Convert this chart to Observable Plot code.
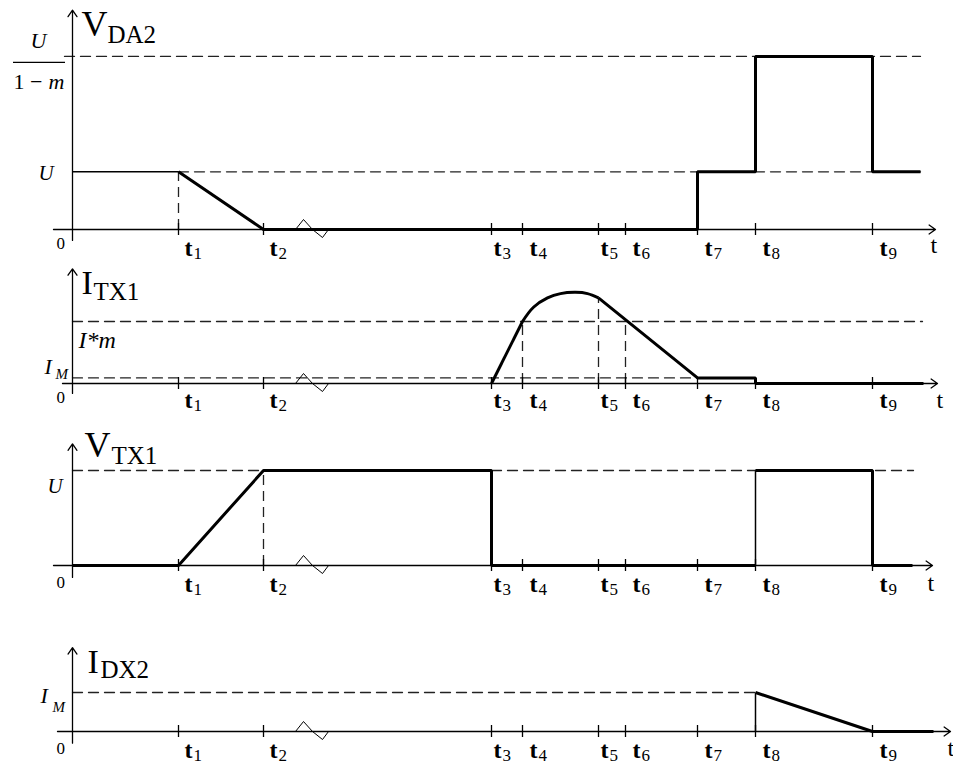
<!DOCTYPE html>
<html><head><meta charset="utf-8">
<script src="https://cdn.jsdelivr.net/npm/d3@7"></script>
<script src="https://cdn.jsdelivr.net/npm/@observablehq/plot@0.6"></script>
<style>
body{margin:0;background:#fff;}
#chart{width:953px;height:765px;overflow:hidden;}
#chart svg{display:block;}
</style></head><body><div id="chart"></div>
<script>
// ---------- data ----------
const tickTimes  = [10.6, 19.1, 41.9, 45.0, 52.6, 55.3, 62.5, 68.3, 80.0];
const tickNames  = ["1","2","3","4","5","6","7","8","9"];
const breakTime  = 24.0;

// Panel 1: V_DA2  (U = 1, U/(1-m) = 3)
const vda2Thin   = [[0,1],[10.6,1]];
const vda2Thick  = [[10.6,1],[19.1,0],[62.5,0],[62.5,1],[68.3,1],[68.3,3],[80,3],[80,1],[84.8,1]];
const vda2DashH  = [[[-0.8,3],[84.8,3]], [[10.6,1],[84.8,1]]];
const vda2DashV  = [[10.6,1]];

// Panel 2: I_TX1  (I*m = 1, I_M = 0.09)
const itx1Rise   = [[41.9,0],[45.0,1]];
const itx1Arc    = [[45.0,1],[46.1,1.23],[47.5,1.38],[48.8,1.45],[50.3,1.47],[51.5,1.45],[52.6,1.38]];
const itx1Fall   = [[52.6,1.38],[62.5,0.09],[68.3,0.09],[68.3,0],[85.1,0]];
const itx1DashH  = [[[0,1],[85.0,1]], [[0,0.09],[62.5,0.09]]];
const itx1DashV  = [[45.0,1],[52.6,1.38],[55.3,1]];

// Panel 3: V_TX1  (U = 1)
const vtx1ThickA = [[0,0],[10.6,0],[19.1,1],[41.9,1],[41.9,0],[68.3,0]];
const vtx1ThinB  = [[68.3,0],[68.3,1]];
const vtx1ThickC = [[68.3,1],[80,1],[80,0],[84.0,0]];
const vtx1DashH  = [[[0,1],[19.1,1]], [[41.9,1],[84.1,1]]];
const vtx1DashV  = [[19.1,1]];

// Panel 4: I_DX2  (I_M = 1)
const idx2Thin   = [[68.3,0],[68.3,1]];
const idx2Thick  = [[68.3,1],[80,0],[86.1,0]];
const idx2DashH  = [[[0,1],[68.3,1]]];

// ---------- style / layout ----------
const SERIF = "Liberation Serif, Times New Roman, serif";
const INK = "#000";
const labelNudge = [6, 6, 2, 7, 2, 7, 7, 7, 7];

const zigzag = {
  draw(ctx) {
    ctx.moveTo(-17, 0); ctx.lineTo(-9, -10); ctx.lineTo(0, 0);
    ctx.lineTo(10, 8); ctx.lineTo(16, 0);
  }
};

const ticks = tickTimes.map((t, i) => ({t, name: tickNames[i], nudge: labelNudge[i]}));

function T(x, y, text, o) {
  return Plot.text([{x, y}], {x: "x", y: "y", text: () => text, fontFamily: SERIF, fill: INK, textAnchor: "start", lineAnchor: "bottom", ...o});
}

function ticksText(dy) {
  const out = [];
  for (const d of ticks) {
    out.push(T(d.t, 0, "t", {dx: d.nudge, dy, fontWeight: "bold", fontSize: 24}));
    out.push(T(d.t, 0, d.name, {dx: d.nudge + 9, dy: dy + 3, fontSize: 17}));
  }
  return out;
}

function buildPanel(cfg) {
  const P = (d) => ({x: d[0], y: d[1]});
  const marks = [];
  for (const seg of cfg.dashH) marks.push(Plot.line(seg.map(P), {x: "x", y: "y", stroke: "#222", strokeWidth: 1.3, strokeDasharray: "10,6"}));
  marks.push(Plot.ruleX(cfg.dashV.map(P), {x: "x", y1: 0, y2: "y", stroke: "#222", strokeWidth: 1.3, strokeDasharray: "10,6"}));
  marks.push(Plot.arrow([0], {x1: cfg.axisX[0], x2: cfg.axisX[1], y1: 0, y2: 0, stroke: INK, strokeWidth: 1.3, headLength: 9, headAngle: 70}));
  marks.push(Plot.arrow([0], {x1: 0, x2: 0, y1: cfg.axisY[0], y2: cfg.axisY[1], stroke: INK, strokeWidth: 1.3, headLength: 9, headAngle: 70}));
  marks.push(Plot.ruleX(ticks, {x: "t", y1: 0, y2: 0, insetTop: -6, insetBottom: -6, stroke: INK, strokeWidth: 1.3}));
  marks.push(Plot.dot([{t: breakTime}], {x: "t", y: 0, symbol: zigzag, stroke: INK, strokeWidth: 1, fill: "none"}));
  for (const s of cfg.thick) marks.push(Plot.line(s.data.map(P), {x: "x", y: "y", stroke: INK, strokeWidth: 3, curve: s.curve || "linear", strokeLinejoin: "miter", strokeLinecap: "butt"}));
  for (const s of cfg.thin) marks.push(Plot.line(s.map(P), {x: "x", y: "y", stroke: INK, strokeWidth: 1.5, strokeLinecap: "butt"}));
  marks.push(...ticksText(cfg.tickDy), ...cfg.extra);
  return Plot.plot({
    width: 953, height: cfg.height,
    marginTop: 0, marginBottom: 0, marginLeft: 0, marginRight: 0,
    x: {domain: [0, 86.5], range: [72, 937], axis: null},
    y: {domain: [0, 1], range: cfg.yRange, axis: null},
    style: {background: "#fff", fontFamily: SERIF},
    marks
  });
}

const chart = document.getElementById("chart");

// Panel 1
chart.append(buildPanel({
  height: 262, yRange: [229, 171.3], tickDy: 26,
  axisX: [-1.9, 86.3], axisY: [-0.19, 3.8],
  dashH: vda2DashH, dashV: vda2DashV,
  thick: [{data: vda2Thick}], thin: [vda2Thin],
  extra: [
    T(0, 3.8, "V", {dx: 9, dy: 26, fontSize: 36}),
    T(0, 3.8, "DA2", {dx: 35, dy: 33, fontSize: 25}),
    T(86.3, 0, "t", {dx: -5, dy: 23, fontSize: 24}),
    T(0, 0, "0", {dx: -16, dy: 19, fontSize: 17}),
    T(0, 1, "U", {dx: -34, dy: 8, fontSize: 21, fontStyle: "italic"}),
    T(0, 3, "U", {dx: -42, dy: -8, fontSize: 22, fontStyle: "italic"}),
    T(0, 3, "1 −", {dx: -59, dy: 33, fontSize: 22}),
    T(0, 3, "m", {dx: -24, dy: 33, fontSize: 22, fontStyle: "italic"}),
    Plot.ruleY([3], {x1: 0, x2: 0, insetLeft: -59, insetRight: 7, dy: 6, stroke: INK, strokeWidth: 1.3})
  ]
}));

// Panel 2
chart.append(buildPanel({
  height: 158, yRange: [121, 59], tickDy: 24,
  axisX: [-1.0, 86.5], axisY: [-0.16, 1.85],
  dashH: itx1DashH, dashV: itx1DashV,
  thick: [{data: itx1Rise}, {data: itx1Arc, curve: "catmull-rom"}, {data: itx1Fall}], thin: [],
  extra: [
    T(0, 1.85, "I", {dx: 9, dy: 25, fontSize: 34}),
    T(0, 1.85, "TX1", {dx: 21, dy: 31, fontSize: 25}),
    T(86.5, 0, "t", {dx: -1, dy: 24, fontSize: 24}),
    T(0, 0, "0", {dx: -16, dy: 19, fontSize: 17}),
    T(0, 1, "I*m", {dx: 6, dy: 26, fontSize: 24, fontStyle: "italic"}),
    T(0, 0.09, "I", {dx: -28, dy: -4, fontSize: 22, fontStyle: "italic"}),
    T(0, 0.09, "M", {dx: -17, dy: 1, fontSize: 15, fontStyle: "italic"})
  ]
}));

// Panel 3
chart.append(buildPanel({
  height: 210, yRange: [145, 50], tickDy: 26,
  axisX: [-1.9, 86.0], axisY: [-0.126, 1.28],
  dashH: vtx1DashH, dashV: vtx1DashV,
  thick: [{data: vtx1ThickA}, {data: vtx1ThickC}], thin: [vtx1ThinB],
  extra: [
    T(0, 1.28, "V", {dx: 12, dy: 13, fontSize: 36}),
    T(0, 1.28, "TX1", {dx: 39, dy: 20, fontSize: 25}),
    T(86.0, 0, "t", {dx: -5, dy: 25, fontSize: 24}),
    T(0, 0, "0", {dx: -16, dy: 22, fontSize: 17}),
    T(0, 1, "U", {dx: -25, dy: 22, fontSize: 21, fontStyle: "italic"})
  ]
}));

// Panel 4
chart.append(buildPanel({
  height: 135, yRange: [101, 62], tickDy: 26,
  axisX: [-1.5, 87.8], axisY: [-0.3, 2.15],
  dashH: idx2DashH, dashV: [],
  thick: [{data: idx2Thick}], thin: [idx2Thin],
  extra: [
    T(0, 2.15, "I", {dx: 15, dy: 25, fontSize: 34}),
    T(0, 2.15, "DX2", {dx: 28, dy: 30, fontSize: 25}),
    T(87.8, 0, "t", {dx: -3, dy: 24, fontSize: 24}),
    T(0, 0, "0", {dx: -16, dy: 22, fontSize: 17}),
    T(0, 1, "I", {dx: -32, dy: 10, fontSize: 22, fontStyle: "italic"}),
    T(0, 1, "M", {dx: -20, dy: 19, fontSize: 15, fontStyle: "italic"})
  ]
}));
</script>
</body></html>
